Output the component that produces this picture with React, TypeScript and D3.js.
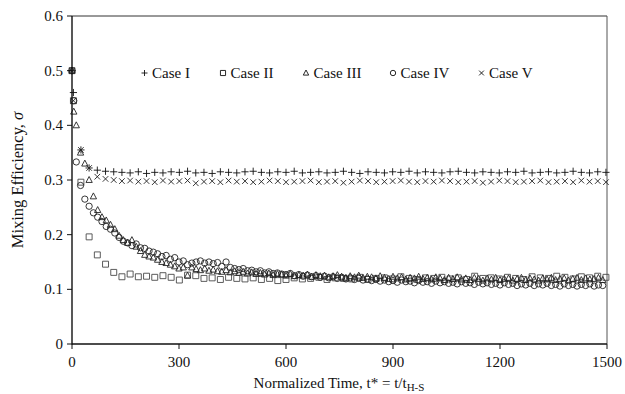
import React from "react";
import * as d3 from "d3";

const timesA: number[] = [0, 4, ...d3.range(25, 1500, 23)];
const timesB: number[] = [0, 5, ...d3.range(12, 1500, 12)];

const caseI: number[] = [0.5, 0.46, 0.355, 0.322, 0.318, 0.316, 0.315, 0.314, 0.313, 0.315, 0.312, 0.314, 0.313, 0.315, 0.314, 0.316, 0.313, 0.314, 0.312, 0.315, 0.314, 0.313, 0.315, 0.316, 0.314, 0.313, 0.315, 0.314, 0.316, 0.313, 0.314, 0.315, 0.313, 0.314, 0.316, 0.314, 0.312, 0.315, 0.314, 0.313, 0.315, 0.314, 0.316, 0.313, 0.315, 0.314, 0.313, 0.315, 0.316, 0.314, 0.313, 0.315, 0.314, 0.313, 0.315, 0.314, 0.316, 0.313, 0.314, 0.315, 0.313, 0.314, 0.316, 0.314, 0.313, 0.315, 0.314];
const caseII: number[] = [0.5, 0.445, 0.296, 0.196, 0.163, 0.146, 0.131, 0.123, 0.128, 0.123, 0.124, 0.122, 0.125, 0.122, 0.117, 0.126, 0.125, 0.12, 0.121, 0.118, 0.122, 0.12, 0.119, 0.121, 0.118, 0.12, 0.116, 0.118, 0.121, 0.119, 0.12, 0.122, 0.118, 0.121, 0.12, 0.119, 0.122, 0.118, 0.12, 0.121, 0.119, 0.123, 0.12, 0.118, 0.121, 0.12, 0.122, 0.119, 0.121, 0.118, 0.124, 0.12, 0.121, 0.119, 0.122, 0.12, 0.118, 0.123, 0.121, 0.12, 0.124, 0.122, 0.119, 0.123, 0.121, 0.124, 0.122];
const caseV: number[] = [0.5, 0.445, 0.355, 0.322, 0.306, 0.302, 0.3, 0.298, 0.299, 0.297, 0.298, 0.296, 0.299, 0.297, 0.298, 0.299, 0.294, 0.297, 0.298, 0.296, 0.299, 0.297, 0.298, 0.296, 0.297, 0.299, 0.298, 0.296, 0.297, 0.298, 0.299, 0.296, 0.297, 0.298, 0.295, 0.297, 0.299, 0.298, 0.296, 0.297, 0.298, 0.299, 0.297, 0.296, 0.298, 0.297, 0.299, 0.298, 0.296, 0.297, 0.298, 0.295, 0.297, 0.299, 0.298, 0.296, 0.297, 0.298, 0.299, 0.296, 0.297, 0.298, 0.296, 0.299, 0.297, 0.298, 0.296];
const caseIII: number[] = [
  0.5, 0.425, 0.4, 0.35, 0.33, 0.3, 0.27, 0.245, 0.232, 0.226,
  0.218, 0.21, 0.198, 0.19, 0.185, 0.19, 0.178, 0.17, 0.163, 0.16,
  0.158, 0.154, 0.15, 0.148, 0.145, 0.142, 0.138, 0.14, 0.125, 0.14,
  0.137, 0.135, 0.138, 0.134, 0.136, 0.133, 0.132, 0.135, 0.131, 0.133,
  0.13, 0.132, 0.129, 0.131, 0.128, 0.13, 0.127, 0.129, 0.126, 0.128,
  0.127, 0.125, 0.128, 0.124, 0.126, 0.125, 0.127, 0.123, 0.126, 0.124,
  0.125, 0.122, 0.124, 0.126, 0.123, 0.121, 0.124, 0.122, 0.125, 0.121,
  0.123, 0.122, 0.12, 0.124, 0.121, 0.119, 0.123, 0.12, 0.122, 0.118,
  0.121, 0.12, 0.123, 0.119, 0.121, 0.118, 0.122, 0.12, 0.117, 0.121,
  0.119, 0.122, 0.118, 0.12, 0.117, 0.121, 0.119, 0.116, 0.12, 0.118,
  0.121, 0.117, 0.119, 0.12, 0.116, 0.119, 0.121, 0.117, 0.12, 0.118,
  0.116, 0.12, 0.118, 0.121, 0.117, 0.119, 0.12, 0.116, 0.119, 0.121,
  0.117, 0.12, 0.118, 0.119, 0.121, 0.117];
const caseIV: number[] = [
  0.5, 0.445, 0.333, 0.29, 0.265, 0.252, 0.24, 0.232, 0.224, 0.215,
  0.21, 0.203, 0.195, 0.188, 0.185, 0.18, 0.183, 0.176, 0.175, 0.17,
  0.168, 0.165, 0.16, 0.162, 0.155, 0.158, 0.15, 0.152, 0.145, 0.148,
  0.15, 0.152, 0.148, 0.15, 0.147, 0.149, 0.142, 0.15, 0.14, 0.138,
  0.136, 0.138, 0.134, 0.135, 0.132, 0.134, 0.13, 0.132, 0.129, 0.13,
  0.128, 0.127, 0.129, 0.125, 0.127, 0.124, 0.126, 0.123, 0.125, 0.122,
  0.124, 0.121, 0.123, 0.12, 0.122, 0.119, 0.121, 0.118, 0.12, 0.117,
  0.119, 0.116, 0.118, 0.115, 0.117, 0.114, 0.116, 0.113, 0.117, 0.114,
  0.115, 0.112, 0.116, 0.113, 0.114, 0.111, 0.115, 0.112, 0.114, 0.111,
  0.113, 0.11, 0.114, 0.111, 0.112, 0.109, 0.113, 0.11, 0.112, 0.109,
  0.111, 0.108, 0.112, 0.109, 0.111, 0.107, 0.11, 0.108, 0.111, 0.107,
  0.11, 0.108, 0.111, 0.107, 0.109, 0.106, 0.11, 0.107, 0.109, 0.106,
  0.109, 0.107, 0.11, 0.106, 0.108, 0.107];

const xTicks: number[] = [0, 300, 600, 900, 1200, 1500];
const yTicks: number[] = [0, 0.1, 0.2, 0.3, 0.4, 0.5, 0.6];
const legendNames: string[] = ["Case I", "Case II", "Case III", "Case IV", "Case V"];

type Shape = "plus" | "square" | "triangle" | "circle" | "times";

function shapePath(s: Shape, r: number): string {
  const p = d3.path();
  if (s === "plus") {
    p.moveTo(-r, 0); p.lineTo(r, 0); p.moveTo(0, -r); p.lineTo(0, r);
  } else if (s === "times") {
    const k = r * 0.8;
    p.moveTo(-k, -k); p.lineTo(k, k); p.moveTo(-k, k); p.lineTo(k, -k);
  } else if (s === "square") {
    p.rect(-r * 0.85, -r * 0.85, r * 1.7, r * 1.7);
  } else if (s === "triangle") {
    p.moveTo(0, -r); p.lineTo(r * 0.9, r * 0.7); p.lineTo(-r * 0.9, r * 0.7); p.closePath();
  } else {
    p.arc(0, 0, r * 0.9, 0, Math.PI * 2);
  }
  return p.toString();
}

const W = 625, H = 394;
const x = d3.scaleLinear().domain([0, 1500]).range([72, 607]);
const y = d3.scaleLinear().domain([0, 0.6]).range([344, 16]);

const series: { t: number[]; v: number[]; shape: Shape; color: string }[] = [
  { t: timesA, v: caseII, shape: "square", color: "#4a4a4a" },
  { t: timesB, v: caseIII, shape: "triangle", color: "#222" },
  { t: timesB, v: caseIV, shape: "circle", color: "#222" },
  { t: timesA, v: caseI, shape: "plus", color: "#111" },
  { t: timesA, v: caseV, shape: "times", color: "#222" },
];

const legendShapes: Shape[] = ["plus", "square", "triangle", "circle", "times"];
const legendX: number[] = [144.5, 223, 306, 393, 481.5];

const font = "'Liberation Serif', 'Times New Roman', serif";

export default function App() {
  return (
    <svg width={W} height={H} style={{ position: "absolute", left: 0, top: 0 }} fontFamily={font}>
      <rect x={0} y={0} width={W} height={H} fill="#fff" />
      {/* frame */}
      <line x1={x(0)} x2={x(1500)} y1={y(0.6)} y2={y(0.6)} stroke="#333" strokeWidth={1} />
      <line x1={x(1500)} x2={x(1500)} y1={y(0.6)} y2={y(0)} stroke="#555" strokeWidth={1} />
      {/* data */}
      {series.map((s, si) => (
        <g key={si} fill="none" stroke={s.color} strokeWidth={0.9}>
          {s.v.slice(0, Math.min(s.v.length, s.t.length)).map((v, i) => (
            <path key={i} d={shapePath(s.shape, s.shape === "plus" ? 3.6 : 3.5)} transform={`translate(${x(s.t[i])},${y(v)})`} />
          ))}
        </g>
      ))}
      {/* axes */}
      <line x1={x(0)} x2={x(0)} y1={y(0.6)} y2={y(0) + 0.5} stroke="#111" strokeWidth={1.4} />
      <line x1={x(0)} x2={x(1500)} y1={y(0)} y2={y(0)} stroke="#111" strokeWidth={1.4} />
      {yTicks.map((t) => (
        <g key={"y" + t}>
          <line x1={x(0) - 5} x2={x(0)} y1={y(t)} y2={y(t)} stroke="#111" strokeWidth={1} />
          <text x={x(0) - 9} y={y(t) + 5} textAnchor="end" fontSize={15} fill="#111">
            {t === 0 ? "0" : d3.format(".1f")(t)}
          </text>
        </g>
      ))}
      {xTicks.map((t) => (
        <g key={"x" + t}>
          <line x1={x(t)} x2={x(t)} y1={y(0)} y2={y(0) + 5} stroke="#111" strokeWidth={1} />
          <text x={x(t)} y={367} textAnchor="middle" fontSize={15} fill="#111">{t}</text>
        </g>
      ))}
      {/* axis titles */}
      <text x={339} y={388} textAnchor="middle" fontSize={15} fill="#111">
        Normalized Time, t* = t/t<tspan fontSize={11} dy={3}>H-S</tspan>
      </text>
      <text transform="translate(23,180) rotate(-90)" textAnchor="middle" fontSize={16.5} fill="#111">
        Mixing Efficiency, <tspan fontStyle="italic">σ</tspan>
      </text>
      {/* legend */}
      {legendNames.map((n, i) => (
        <g key={n}>
          <path d={shapePath(legendShapes[i], 3)} transform={`translate(${legendX[i]},73)`} fill="none" stroke="#111" strokeWidth={0.9} />
          <text x={legendX[i] + 7.5} y={78} fontSize={15} fill="#111">{n}</text>
        </g>
      ))}
    </svg>
  );
}
